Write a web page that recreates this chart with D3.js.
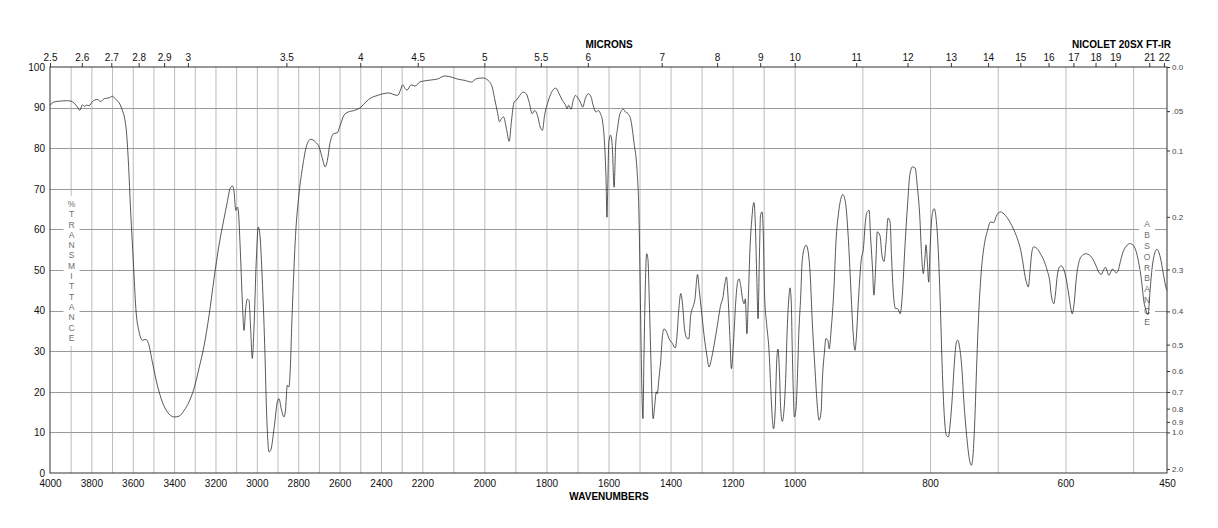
<!DOCTYPE html>
<html>
<head>
<meta charset="utf-8">
<script src="https://cdn.jsdelivr.net/npm/d3@7"></script>
<style>
body { margin: 0; background: #fff; }
svg { display: block; font-family: "Liberation Sans", Arial, Helvetica, sans-serif; }
</style>
</head>
<body>
<svg id="chart"></svg>
<script>
// spectrum (cm-1, %T)
let wavenumbers = [
    4000, 3980, 3950, 3920, 3900, 3883, 3867, 3856, 3843, 3833, 3825, 3810, 3795, 3771, 3755, 3738, 3714, 3698, 3682, 3666,
    3650, 3639, 3629, 3621, 3610, 3597, 3585, 3569, 3553, 3537, 3524, 3505, 3481, 3457, 3432, 3400, 3376, 3352, 3328, 3304,
    3280, 3255, 3231, 3207, 3183, 3159, 3143, 3130, 3118, 3110, 3102, 3094, 3089, 3081, 3070, 3062, 3054, 3046, 3038, 3030,
    3022, 3014, 3003, 2993, 2985, 2974, 2962, 2953, 2941, 2933, 2917, 2901, 2893, 2882, 2869, 2861, 2853, 2845, 2840, 2829,
    2813, 2797, 2780, 2759, 2740, 2716, 2699, 2683, 2670, 2659, 2647, 2628, 2611, 2600, 2579, 2559, 2529, 2497, 2473, 2448,
    2416, 2392, 2360, 2343, 2319, 2306, 2295, 2283, 2274, 2254, 2234, 2213, 2182, 2149, 2128, 2106, 2085, 2063, 2042, 2026,
    2004, 1988, 1975, 1967, 1958, 1951, 1945, 1938, 1929, 1920, 1913, 1904, 1897, 1886, 1875, 1865, 1856, 1846, 1838, 1829,
    1820, 1813, 1806, 1795, 1784, 1770, 1759, 1749, 1739, 1733, 1729, 1720, 1715, 1706, 1699, 1691, 1683, 1675, 1665, 1656,
    1650, 1640, 1633, 1626, 1619, 1613, 1608, 1605, 1602, 1599, 1593, 1588, 1582, 1577, 1571, 1563, 1552, 1545, 1537, 1528,
    1518, 1507, 1502, 1499, 1495, 1492, 1489, 1486, 1482, 1477, 1473, 1469, 1464, 1460, 1456, 1451, 1446, 1443, 1437, 1432,
    1426, 1421, 1412, 1405, 1394, 1385, 1380, 1374, 1367, 1361, 1355, 1346, 1341, 1335, 1326, 1322, 1313, 1308, 1300, 1292,
    1283, 1276, 1268, 1260, 1249, 1238, 1232, 1225, 1220, 1215, 1209, 1204, 1197, 1190, 1184, 1179, 1174, 1168, 1163, 1159,
    1154, 1149, 1144, 1138, 1134, 1131, 1127, 1122, 1118, 1114, 1110, 1105, 1101, 1097, 1090, 1083, 1077, 1072, 1068, 1063,
    1058, 1054, 1049, 1045, 1040, 1034, 1029, 1024, 1018, 1015, 1011, 1008, 1004, 1001, 998, 996, 994, 991, 989, 985,
    983, 980, 977, 974, 970, 967, 964, 961, 959, 956, 954, 951, 949, 946, 942, 939, 935, 931, 929, 925,
    921, 917, 914, 911, 909, 906, 902, 898, 896, 893, 890, 888, 885, 883, 880, 878, 874, 871, 868, 865,
    862, 859, 857, 854, 851, 848, 844, 841, 837, 833, 830, 826, 822, 819, 815, 813, 810, 808, 806, 804,
    802, 800, 797, 794, 791, 788, 785, 782, 779, 776, 773, 770, 767, 764, 761, 759, 756, 753, 750, 746,
    742, 739, 737, 734, 731, 728, 724, 720, 715, 711, 706, 702, 696, 689, 682, 676, 671, 666, 663, 660,
    657, 655, 652, 650, 647, 642, 637, 632, 627, 623, 621, 617, 615, 612, 609, 606, 602, 599, 595, 592,
    590, 587, 584, 580, 575, 570, 564, 560, 555, 551, 547, 544, 541, 538, 536, 533, 531, 528, 525, 522,
    519, 515, 510, 505, 500, 496, 492, 488, 484, 481, 478, 475, 472, 469, 465, 460, 455, 451, 450
]
let transmittance = [
    90.6, 91.4, 91.6, 91.7, 91.6, 91.1, 90.1, 89.3, 90.7, 90.3, 90.6, 90.5, 91.5, 92.0, 91.5, 92.2, 92.4, 92.8, 92.0, 91.2,
    89.3, 87.3, 83.2, 76.6, 64.3, 52.0, 40.5, 34.7, 32.7, 32.9, 31.9, 27.3, 21.6, 17.5, 15.0, 13.8, 14.0, 15.4, 17.5, 20.8,
    25.7, 31.4, 38.8, 47.9, 56.1, 62.6, 66.7, 70.0, 70.7, 69.2, 64.7, 65.5, 64.3, 56.1, 42.1, 35.1, 40.5, 42.8, 42.5, 35.5,
    28.2, 35.5, 52.0, 60.6, 58.5, 47.9, 31.4, 15.0, 5.2, 5.6, 10.9, 17.5, 18.3, 15.8, 13.8, 15.8, 21.6, 21.2, 24.0, 39.7,
    58.5, 68.4, 75.0, 80.7, 82.2, 81.5, 80.3, 77.4, 75.4, 77.0, 81.1, 83.6, 83.8, 85.2, 88.1, 88.9, 89.3, 90.1, 91.4, 92.4,
    93.0, 93.4, 93.6, 93.3, 93.0, 94.3, 95.6, 94.7, 94.3, 95.6, 95.3, 96.3, 96.7, 97.1, 97.8, 97.5, 97.0, 96.7, 96.3, 97.1,
    97.3, 96.7, 95.1, 92.2, 88.9, 86.5, 87.3, 87.7, 84.8, 81.7, 86.5, 91.4, 91.8, 93.0, 93.8, 93.4, 91.4, 88.5, 89.3, 88.1,
    85.2, 84.4, 88.1, 91.4, 93.7, 94.8, 93.4, 91.8, 90.7, 89.7, 90.6, 89.6, 91.4, 93.0, 92.4, 91.4, 90.1, 92.2, 93.4, 92.6,
    90.7, 88.9, 89.3, 88.5, 86.5, 81.5, 72.5, 63.0, 72.0, 81.5, 83.2, 80.7, 70.4, 80.7, 84.8, 88.5, 89.6, 88.9, 88.5, 86.9,
    81.5, 73.3, 64.3, 52.0, 31.4, 19.1, 13.4, 27.3, 43.8, 54.0, 52.8, 43.8, 29.8, 19.1, 13.4, 16.7, 20.0, 19.5, 23.6, 27.3,
    33.9, 35.5, 34.6, 33.1, 31.9, 30.8, 33.1, 39.7, 44.2, 41.3, 35.5, 33.1, 33.1, 38.8, 41.3, 42.5, 48.9, 45.4, 39.7, 33.9,
    29.0, 26.1, 28.2, 31.4, 36.4, 41.5, 42.9, 46.6, 48.3, 43.8, 33.9, 25.7, 32.3, 42.1, 47.0, 47.8, 46.2, 42.9, 41.7, 42.9,
    34.3, 43.8, 55.3, 62.6, 65.9, 66.6, 61.8, 47.9, 38.0, 52.0, 63.5, 64.3, 58.5, 43.8, 36.4, 30.6, 20.8, 13.4, 10.9, 15.0,
    27.3, 30.5, 24.9, 15.8, 12.7, 15.8, 23.3, 35.5, 43.8, 45.6, 42.1, 31.4, 19.1, 13.8, 15.8, 23.3, 33.9, 43.8, 52.0, 55.7,
    56.1, 54.4, 48.7, 37.2, 25.7, 17.5, 13.0, 15.0, 23.3, 29.8, 33.1, 32.7, 30.6, 35.5, 45.4, 56.9, 64.3, 68.0, 68.6, 66.7,
    58.5, 45.4, 35.5, 30.2, 33.1, 42.1, 52.0, 56.1, 61.0, 64.3, 64.7, 58.5, 50.3, 43.8, 52.0, 59.4, 58.5, 53.6, 52.1, 56.9,
    62.8, 61.8, 53.6, 43.8, 40.5, 40.5, 39.2, 43.8, 56.1, 66.7, 73.3, 75.4, 75.1, 70.9, 62.6, 55.3, 49.1, 52.0, 56.2, 52.0,
    47.0, 55.3, 63.5, 65.1, 62.6, 55.3, 42.1, 25.7, 14.2, 9.3, 8.9, 12.6, 19.1, 27.3, 32.3, 32.7, 30.6, 25.7, 17.5, 9.3,
    3.5, 1.9, 3.5, 12.6, 27.3, 39.7, 50.3, 56.1, 59.8, 61.8, 61.7, 63.3, 64.3, 63.5, 61.8, 59.8, 57.7, 54.8, 52.0, 48.7,
    46.6, 45.8, 50.3, 54.0, 55.7, 55.3, 54.0, 52.4, 49.9, 47.0, 43.8, 41.7, 43.8, 48.7, 50.7, 51.0, 49.9, 47.9, 43.8, 40.5,
    39.2, 42.1, 47.9, 52.0, 53.6, 54.0, 53.6, 52.8, 51.1, 49.5, 48.9, 49.9, 50.7, 49.5, 48.7, 49.5, 50.2, 49.9, 49.3, 49.9,
    52.0, 54.4, 55.9, 56.5, 56.1, 54.8, 52.0, 47.9, 42.1, 40.1, 39.0, 45.0, 50.5, 53.6, 55.1, 53.2, 48.7, 45.4, 45.0
]

let pctTicks = [0, 10, 20, 30, 40, 50, 60, 70, 80, 90, 100]
let wnLabels = [4000, 3800, 3600, 3400, 3200, 3000, 2800, 2600, 2400, 2200, 2000, 1800, 1600, 1400, 1200, 1000, 800, 600, 450]
let micronTicks = [2.5, 2.6, 2.7, 2.8, 2.9, 3, 3.5, 4, 4.5, 5, 5.5, 6, 7, 8, 9, 10, 11, 12, 13, 14, 15, 16, 17, 18, 19, 21, 22]
let absTicks = [0, 0.05, 0.1, 0.2, 0.3, 0.4, 0.5, 0.6, 0.7, 0.8, 0.9, 1.0, 2.0]
let absLabels = ['0.0', '.05', '0.1', '0.2', '0.3', '0.4', '0.5', '0.6', '0.7', '0.8', '0.9', '1.0', '2.0']

let width = 1218
let height = 528
let plotLeft = 50
let plotRight = 1167
let plotTop = 67
let plotBottom = 473

let svg = d3.select('#chart')
    .attr('width', width)
    .attr('height', height)

// wavenumber axis is compressed in three equal pieces
let third = (plotRight - plotLeft) / 3
let xScale = d3.scaleLinear()
    .domain([4000, 2200, 1000, 450])
    .range([plotLeft, plotLeft + third, plotLeft + 2 * third, plotRight])
let yScale = d3.scaleLinear()
    .domain([0, 100])
    .range([plotBottom, plotTop])

// grid
let grid = svg.append('g')
grid.selectAll('.vgrid')
    .data(d3.range(500, 4000, 100))
    .enter()
    .append('line')
    .attr('x1', (d) => xScale(d) + 0.5)
    .attr('x2', (d) => xScale(d) + 0.5)
    .attr('y1', plotTop)
    .attr('y2', plotBottom)
    .attr('stroke', '#bcbcbc')
    .attr('stroke-width', 1)
grid.selectAll('.hgrid')
    .data(pctTicks.slice(1, -1))
    .enter()
    .append('line')
    .attr('x1', plotLeft)
    .attr('x2', plotRight)
    .attr('y1', (d) => Math.round(yScale(d)) + 0.5)
    .attr('y2', (d) => Math.round(yScale(d)) + 0.5)
    .attr('stroke', '#9a9a9a')
    .attr('stroke-width', 1)

// vertical side titles, letters stacked on white
let stacked = (letters, cx, y0, step) => {
    let g = svg.append('g')
    g.append('rect')
        .attr('x', cx - 8)
        .attr('y', y0 - 8)
        .attr('width', 16)
        .attr('height', step * (letters.length - 1) + 16)
        .attr('fill', '#fff')
    g.selectAll('text')
        .data(letters)
        .enter()
        .append('text')
        .attr('x', cx)
        .attr('y', (d, i) => y0 + i * step)
        .attr('dy', '0.35em')
        .attr('text-anchor', 'middle')
        .attr('font-size', 8.5)
        .attr('fill', '#6e6e6e')
        .text((d) => d)
}
stacked(['%', 'T', 'R', 'A', 'N', 'S', 'M', 'I', 'T', 'T', 'A', 'N', 'C', 'E'], 71.5, 204, 10.3)
stacked(['A', 'B', 'S', 'O', 'R', 'B', 'A', 'N', 'C', 'E'], 1147, 224, 10.9)

// spectrum
let line = d3.line()
    .x((d) => xScale(d[0]))
    .y((d) => yScale(d[1]))
    .curve(d3.curveMonotoneX)
svg.append('path')
    .datum(d3.zip(wavenumbers, transmittance))
    .attr('d', line)
    .attr('fill', 'none')
    .attr('stroke', '#222')
    .attr('stroke-width', 0.75)

// frame
svg.append('rect')
    .attr('x', plotLeft)
    .attr('y', plotTop)
    .attr('width', plotRight - plotLeft)
    .attr('height', plotBottom - plotTop)
    .attr('fill', 'none')
    .attr('stroke', '#333')
    .attr('stroke-width', 1)

// axes
let styleAxis = (g, size, color) => {
    g.select('.domain').remove()
    g.selectAll('text')
        .attr('font-size', size)
        .attr('fill', color)
        .attr('font-family', '"Liberation Sans", Arial, sans-serif')
    g.selectAll('line').attr('stroke', '#333')
}

let xAxis = d3.axisBottom(xScale)
    .tickValues(wnLabels)
    .tickSize(0)
    .tickPadding(7)
    .tickFormat(d3.format('d'))
svg.append('g')
    .attr('transform', 'translate(0,' + plotBottom + ')')
    .call(xAxis)
    .call((g) => styleAxis(g, 10, '#111'))

let yAxis = d3.axisLeft(yScale)
    .tickValues(pctTicks)
    .tickSize(0)
    .tickPadding(5)
svg.append('g')
    .attr('transform', 'translate(' + plotLeft + ',0)')
    .call(yAxis)
    .call((g) => styleAxis(g, 10, '#111'))

let micronAxis = d3.axisTop(xScale)
    .tickValues(micronTicks.map((m) => 10000 / m))
    .tickSize(4)
    .tickPadding(2)
    .tickFormat((d, i) => micronTicks[i])
svg.append('g')
    .attr('transform', 'translate(0,' + plotTop + ')')
    .call(micronAxis)
    .call((g) => styleAxis(g, 10, '#111'))

let absAxis = d3.axisRight(yScale)
    .tickValues(absTicks.map((a) => 100 * Math.pow(10, -a)))
    .tickSize(3)
    .tickPadding(2)
    .tickFormat((d, i) => absLabels[i])
svg.append('g')
    .attr('transform', 'translate(' + plotRight + ',0)')
    .call(absAxis)
    .call((g) => styleAxis(g, 8, '#444'))

// titles
svg.append('text')
    .attr('x', 609)
    .attr('y', 48)
    .attr('text-anchor', 'middle')
    .attr('font-size', 10)
    .attr('font-weight', 'bold')
    .text('MICRONS')
svg.append('text')
    .attr('x', 1171)
    .attr('y', 48)
    .attr('text-anchor', 'end')
    .attr('font-size', 10)
    .attr('font-weight', 'bold')
    .text('NICOLET 20SX FT-IR')
svg.append('text')
    .attr('x', 609)
    .attr('y', 500)
    .attr('text-anchor', 'middle')
    .attr('font-size', 10)
    .attr('font-weight', 'bold')
    .text('WAVENUMBERS')
</script>
</body>
</html>
